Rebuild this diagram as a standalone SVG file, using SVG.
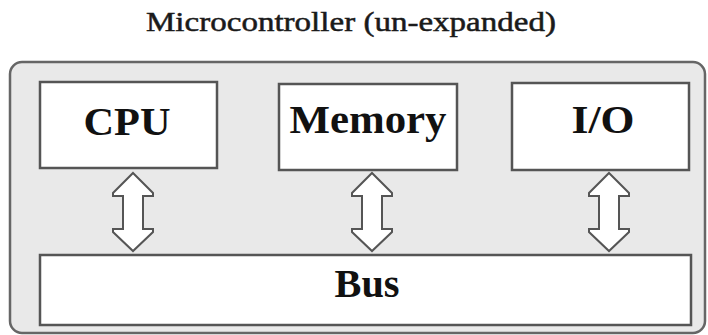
<svg xmlns="http://www.w3.org/2000/svg" width="708" height="335" viewBox="0 0 708 335">
  <style>
    .title { font-family: 'Liberation Serif', Tinos, 'Times New Roman', 'Nimbus Roman', serif; font-size: 28px; fill: #1a1a1a; stroke: #1a1a1a; stroke-width: 0.5; }
    .box { fill: #ffffff; stroke: #555; stroke-width: 2.5; }
    .label { font-family: 'Liberation Serif', Tinos, 'Times New Roman', 'Nimbus Roman', serif; font-size: 40px; font-weight: bold; fill: #111; text-anchor: middle; }
    .frame { fill: #e9e9e9; stroke: #666; stroke-width: 2.5; }
    .link { fill: #ffffff; stroke: #555; stroke-width: 2; stroke-linejoin: miter; }
  </style>
  <defs>
    <!-- double-headed block arrow, centred on x=0 -->
    <polygon id="dbl-arrow" points="0,173 20,193 20,196 10,196 10,229 20,229 20,232 0,251 -20,232 -20,229 -10,229 -10,196 -20,196 -20,193"/>
  </defs>
  <rect width="708" height="335" fill="#ffffff"/>

  <text class="title" x="146" y="31" textLength="410" lengthAdjust="spacingAndGlyphs">Microcontroller (un-expanded)</text>

  <g id="microcontroller">
    <rect class="frame" x="10" y="62" width="695" height="271" rx="12"/>
  </g>

  <g id="cpu">
    <rect class="box" x="40" y="82" width="177" height="86"/>
    <text class="label" x="127" y="135" textLength="87" lengthAdjust="spacingAndGlyphs">CPU</text>
  </g>

  <g id="memory">
    <rect class="box" x="279" y="84" width="178" height="86"/>
    <text class="label" x="368" y="133" textLength="157" lengthAdjust="spacingAndGlyphs">Memory</text>
  </g>

  <g id="io">
    <rect class="box" x="512" y="83" width="177" height="87"/>
    <text class="label" x="603" y="133" textLength="63" lengthAdjust="spacingAndGlyphs">I/O</text>
  </g>

  <g id="bus">
    <rect class="box" x="40" y="255" width="651" height="70"/>
    <text class="label" x="367" y="297" textLength="65" lengthAdjust="spacingAndGlyphs">Bus</text>
  </g>

  <g id="connectors">
    <use href="#dbl-arrow" class="link" transform="translate(133,0)"/>
    <use href="#dbl-arrow" class="link" transform="translate(372,0)"/>
    <use href="#dbl-arrow" class="link" transform="translate(609,0)"/>
  </g>
</svg>
